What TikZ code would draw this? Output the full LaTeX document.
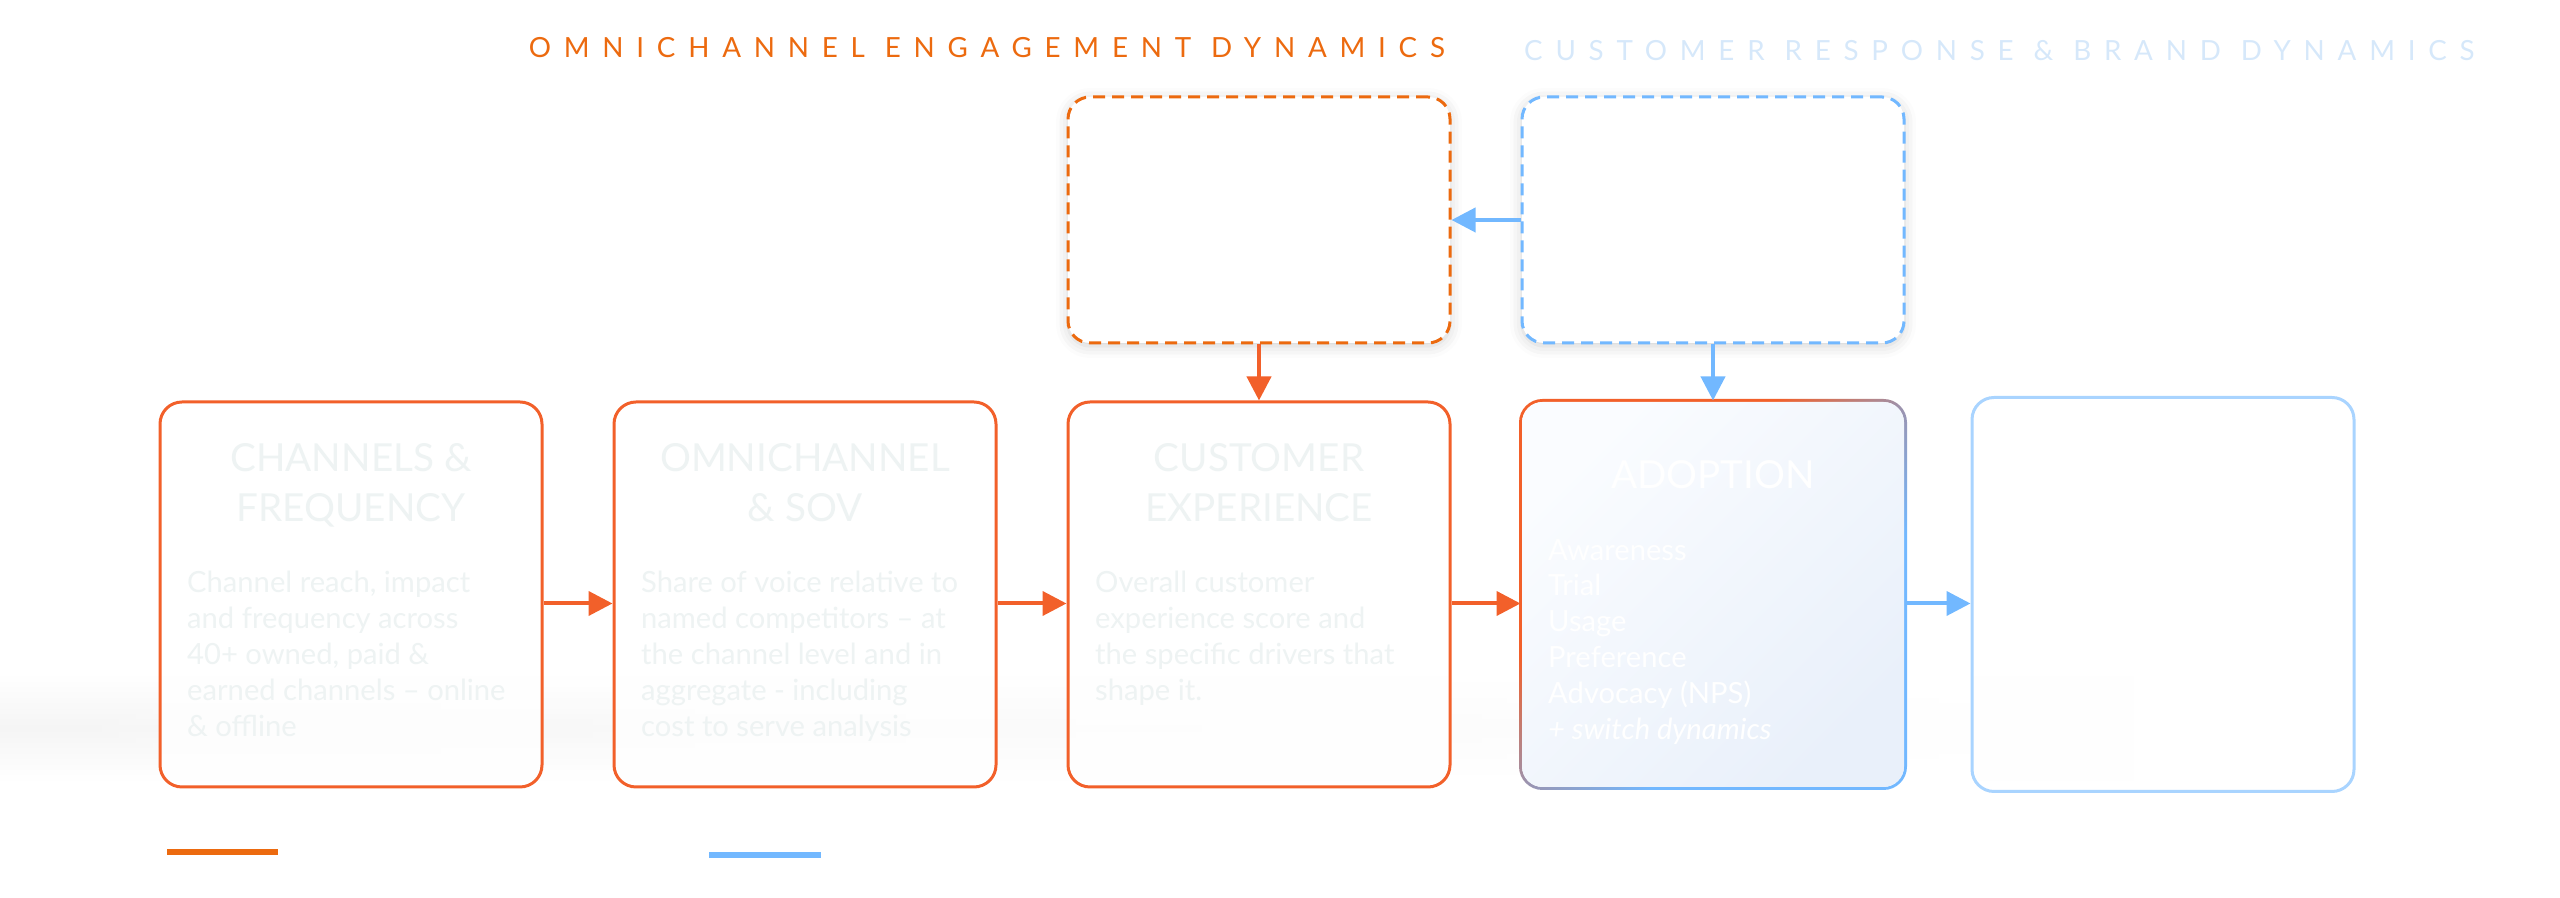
\documentclass[tikz,border=0pt]{standalone}
\usepackage{fontspec}
\setmainfont{Lato}
\newfontfamily\trackfont[LetterSpace=46]{Lato}
\usetikzlibrary{arrows.meta, positioning, calc, shadows.blur, fadings}

\definecolor{flowOrange}{HTML}{F2602A}
\definecolor{headOrange}{HTML}{EC6A0F}
\definecolor{flowBlue}{HTML}{72B8FF}
\definecolor{paleBlue}{HTML}{A9D4FF}
\definecolor{headBlue}{HTML}{D6E8FA}
\definecolor{ghost}{HTML}{EEF3F3}
\definecolor{dusk}{HTML}{9C93AE}
\definecolor{glassTop}{HTML}{FAFCFF}
\definecolor{glassLow}{HTML}{E9F0FA}

\pgfdeclarehorizontalshading{rimfade}{100bp}{color(0bp)=(flowOrange); color(38bp)=(flowOrange); color(50bp)=(dusk); color(62bp)=(flowBlue); color(100bp)=(flowBlue)}

\begin{document}
\begin{tikzpicture}[
    >={Triangle[length=0.24cm,width=0.24cm]},
    node distance=0.69cm,
    card/.style={
      rectangle,
      draw=flowOrange,
      line width=0.03cm,
      rounded corners=0.22cm,
      minimum width=3.82cm,
      minimum height=3.85cm,
      fill=white,
      fill opacity=0.8,
      inner sep=0
    },
    feed/.style={
      card,
      minimum height=2.46cm,
      fill=white,
      fill opacity=1,
      dash pattern=on 0.12cm off 0.07cm,
      blur shadow={shadow xshift=0cm, shadow yshift=-0.03cm, shadow blur radius=0.12cm, shadow opacity=18}
    },
    cardhead/.style={font=\fontsize{11}{14.2}\selectfont, text=ghost, align=center, inner sep=0, anchor=north},
    cardbody/.style={font=\fontsize{8.3}{10.2}\selectfont, text=ghost, align=left, inner sep=0, anchor=north west},
    banner/.style={font=\trackfont\fontsize{7.9}{9}\selectfont, inner sep=0},
    flow/.style={->, line width=0.04cm, draw=flowOrange}
]

\useasboundingbox (0,0) rectangle (25.6,8.98);

% pantulan abu-abu di bawah kartu
\shade[top color=white, bottom color=white, middle color=black!4, path fading=east] (0,1.15) rectangle (21.5,2.25);

% Lima kartu utama
\node[card] (chan) at (3.51,3.035) {};
\node[card, right=of chan] (omni) {};
\node[card, right=of omni] (cx) {};
\node[card, draw=none, fill=none, right=of cx] (adopt) {};
\node[card, draw=paleBlue, right=0.65cm of adopt, minimum height=3.94cm] (outcome) {};

% Kartu adopsi: garis tepi bergradasi
\shade[even odd rule, shading=rimfade, shading angle=-45]
  [rounded corners=0.235cm] ([shift={(-0.015,-0.015)}]adopt.south west) rectangle ([shift={(0.015,0.015)}]adopt.north east)
  [rounded corners=0.205cm] ([shift={(0.015,0.015)}]adopt.south west) rectangle ([shift={(-0.015,-0.015)}]adopt.north east);
\shade[rounded corners=0.205cm, left color=glassTop, right color=glassLow, shading angle=45]
  ([shift={(0.015,0.015)}]adopt.south west) rectangle ([shift={(-0.015,-0.015)}]adopt.north east);

% Dua kotak putus-putus di atas
\node[feed, draw=headOrange, above=0.56cm of cx] (ofeed) {};
\node[feed, draw=flowBlue, above=0.56cm of adopt] (bfeed) {};

% Judul kelompok
\node[banner, text=headOrange, anchor=base east] (otitle) at ($(ofeed.north east)+(-0.06,0.375)$) {OMNICHANNEL ENGAGEMENT DYNAMICS};
\node[banner, text=headBlue, anchor=base west] (btitle) at ($(bfeed.north west)+(0.03,0.345)$) {CUSTOMER RESPONSE \& BRAND DYNAMICS};

% Teks kartu
\node[cardhead] (chanhead) at ($(chan.north)+(0,-0.42)$) {CHANNELS \&\\FREQUENCY};
\node[cardbody] (chanbody) at ($(chan.north west)+(0.28,-1.70)$) {Channel reach, impact\\and frequency across\\40+ owned, paid \&\\earned channels -- online\\\& offline};

\node[cardhead] (omnihead) at ($(omni.north)+(0,-0.42)$) {OMNICHANNEL\\\& SOV};
\node[cardbody] (omnibody) at ($(omni.north west)+(0.28,-1.70)$) {Share of voice relative to\\named competitors -- at\\the channel level and in\\aggregate - including\\cost to serve analysis};

\node[cardhead] (cxhead) at ($(cx.north)+(0,-0.42)$) {CUSTOMER\\EXPERIENCE};
\node[cardbody] (cxbody) at ($(cx.north west)+(0.28,-1.70)$) {Overall customer\\experience score and\\the specific drivers that\\shape it.};

\node[cardhead, text=white] (adopthead) at ($(adopt.north)+(0,-0.59)$) {ADOPTION};
\node[cardbody, text=white] (adoptbody) at ($(adopt.north west)+(0.27,-1.38)$) {Awareness\\Trial\\Usage\\Preference\\Advocacy (NPS)\\\textit{+ switch dynamics}};

% Panah alur
\draw[flow] ([yshift=-0.09cm]chan.east) -- ([yshift=-0.09cm]omni.west);
\draw[flow] ([yshift=-0.09cm]omni.east) -- ([yshift=-0.09cm]cx.west);
\draw[flow] ([yshift=-0.09cm]cx.east) -- ([yshift=-0.09cm]adopt.west);
\draw[flow, draw=flowBlue] ([yshift=-0.09cm]adopt.east) -- ([yshift=-0.09cm]outcome.west);
\draw[flow] (ofeed.south) -- (cx.north);
\draw[flow, draw=flowBlue] (bfeed.south) -- (adopt.north);
\draw[flow, draw=flowBlue] (bfeed.west) -- (ofeed.east);

% Garis legenda
\coordinate (olegA) at (1.67,0.46);
\coordinate (olegB) at (2.78,0.46);
\coordinate (blegA) at (7.09,0.43);
\coordinate (blegB) at (8.21,0.43);
\draw[line width=0.06cm, headOrange] (olegA) -- (olegB);
\draw[line width=0.06cm, flowBlue] (blegA) -- (blegB);

\end{tikzpicture}
\end{document}
